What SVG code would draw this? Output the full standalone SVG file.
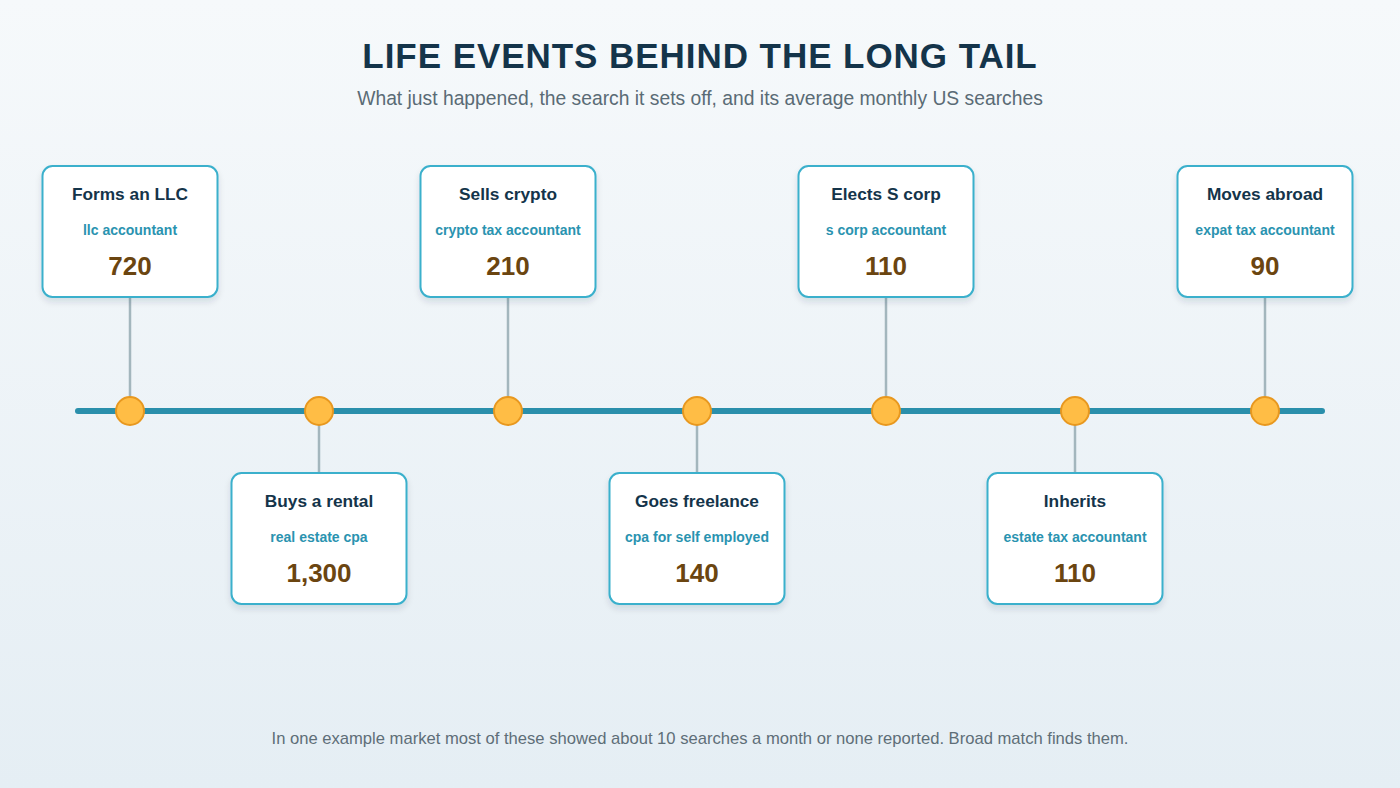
<svg xmlns="http://www.w3.org/2000/svg" width="1400" height="788" viewBox="0 0 1400 788">
<defs>
<linearGradient id="bg" x1="0" y1="0" x2="0" y2="1">
<stop offset="0" stop-color="#f6f9fb"/>
<stop offset="1" stop-color="#e5eef4"/>
</linearGradient>
<filter id="sh" x="-20%" y="-20%" width="140%" height="150%">
<feDropShadow dx="0" dy="4" stdDeviation="3" flood-color="#1c3a4a" flood-opacity="0.12"/>
</filter>
</defs>
<style>
.card{fill:#ffffff;stroke:#3ab0cc;stroke-width:2;filter:url(#sh)}
.t{font-family:"Liberation Sans",Arial,sans-serif;font-weight:bold;font-size:17.3px;fill:#14344a;text-anchor:middle}
.k{font-family:"Liberation Sans",Arial,sans-serif;font-weight:bold;font-size:14px;fill:#2a93b0;text-anchor:middle}
.n{font-family:"Liberation Sans",Arial,sans-serif;font-weight:bold;font-size:26px;fill:#6b4510;text-anchor:middle}
.stem{stroke:#a3b6bd;stroke-width:2.5}
.dot{fill:#ffbd45;stroke:#e8981f;stroke-width:2}
</style>
<rect width="1400" height="788" fill="url(#bg)"/>
<text x="700" y="68" text-anchor="middle" font-family="'Liberation Sans',Arial,sans-serif" font-weight="bold" font-size="35" letter-spacing="0.95" fill="#14344a">LIFE EVENTS BEHIND THE LONG TAIL</text>
<text x="700" y="105" text-anchor="middle" font-family="'Liberation Sans',Arial,sans-serif" font-size="19.3" fill="#5a6b75">What just happened, the search it sets off, and its average monthly US searches</text>

<g id="connectors">
<line x1="78" y1="411" x2="1322" y2="411" stroke="#2a8fab" stroke-width="6" stroke-linecap="round"/>
<line class="stem" x1="130" y1="297" x2="130" y2="397"/>
<line class="stem" x1="319" y1="425" x2="319" y2="473"/>
<line class="stem" x1="508" y1="297" x2="508" y2="397"/>
<line class="stem" x1="697" y1="425" x2="697" y2="473"/>
<line class="stem" x1="886" y1="297" x2="886" y2="397"/>
<line class="stem" x1="1075" y1="425" x2="1075" y2="473"/>
<line class="stem" x1="1265" y1="297" x2="1265" y2="397"/>
<circle class="dot" cx="130" cy="411" r="14"/>
<circle class="dot" cx="319" cy="411" r="14"/>
<circle class="dot" cx="508" cy="411" r="14"/>
<circle class="dot" cx="697" cy="411" r="14"/>
<circle class="dot" cx="886" cy="411" r="14"/>
<circle class="dot" cx="1075" cy="411" r="14"/>
<circle class="dot" cx="1265" cy="411" r="14"/>
</g>

<g id="n1">
<rect class="card" x="42.5" y="166" width="175" height="131" rx="10"/>
<text class="t" x="130" y="200">Forms an LLC</text>
<text class="k" x="130" y="235">llc accountant</text>
<text class="n" x="130" y="275">720</text>
</g>
<g id="n2">
<rect class="card" x="231.5" y="473" width="175" height="131" rx="10"/>
<text class="t" x="319" y="507">Buys a rental</text>
<text class="k" x="319" y="542">real estate cpa</text>
<text class="n" x="319" y="582">1,300</text>
</g>
<g id="n3">
<rect class="card" x="420.5" y="166" width="175" height="131" rx="10"/>
<text class="t" x="508" y="200">Sells crypto</text>
<text class="k" x="508" y="235">crypto tax accountant</text>
<text class="n" x="508" y="275">210</text>
</g>
<g id="n4">
<rect class="card" x="609.5" y="473" width="175" height="131" rx="10"/>
<text class="t" x="697" y="507">Goes freelance</text>
<text class="k" x="697" y="542">cpa for self employed</text>
<text class="n" x="697" y="582">140</text>
</g>
<g id="n5">
<rect class="card" x="798.5" y="166" width="175" height="131" rx="10"/>
<text class="t" x="886" y="200">Elects S corp</text>
<text class="k" x="886" y="235">s corp accountant</text>
<text class="n" x="886" y="275">110</text>
</g>
<g id="n6">
<rect class="card" x="987.5" y="473" width="175" height="131" rx="10"/>
<text class="t" x="1075" y="507">Inherits</text>
<text class="k" x="1075" y="542">estate tax accountant</text>
<text class="n" x="1075" y="582">110</text>
</g>
<g id="n7">
<rect class="card" x="1177.5" y="166" width="175" height="131" rx="10"/>
<text class="t" x="1265" y="200">Moves abroad</text>
<text class="k" x="1265" y="235">expat tax accountant</text>
<text class="n" x="1265" y="275">90</text>
</g>

<text x="700" y="744" text-anchor="middle" font-family="'Liberation Sans',Arial,sans-serif" font-size="16.6" fill="#5e6e78">In one example market most of these showed about 10 searches a month or none reported. Broad match finds them.</text>
</svg>
